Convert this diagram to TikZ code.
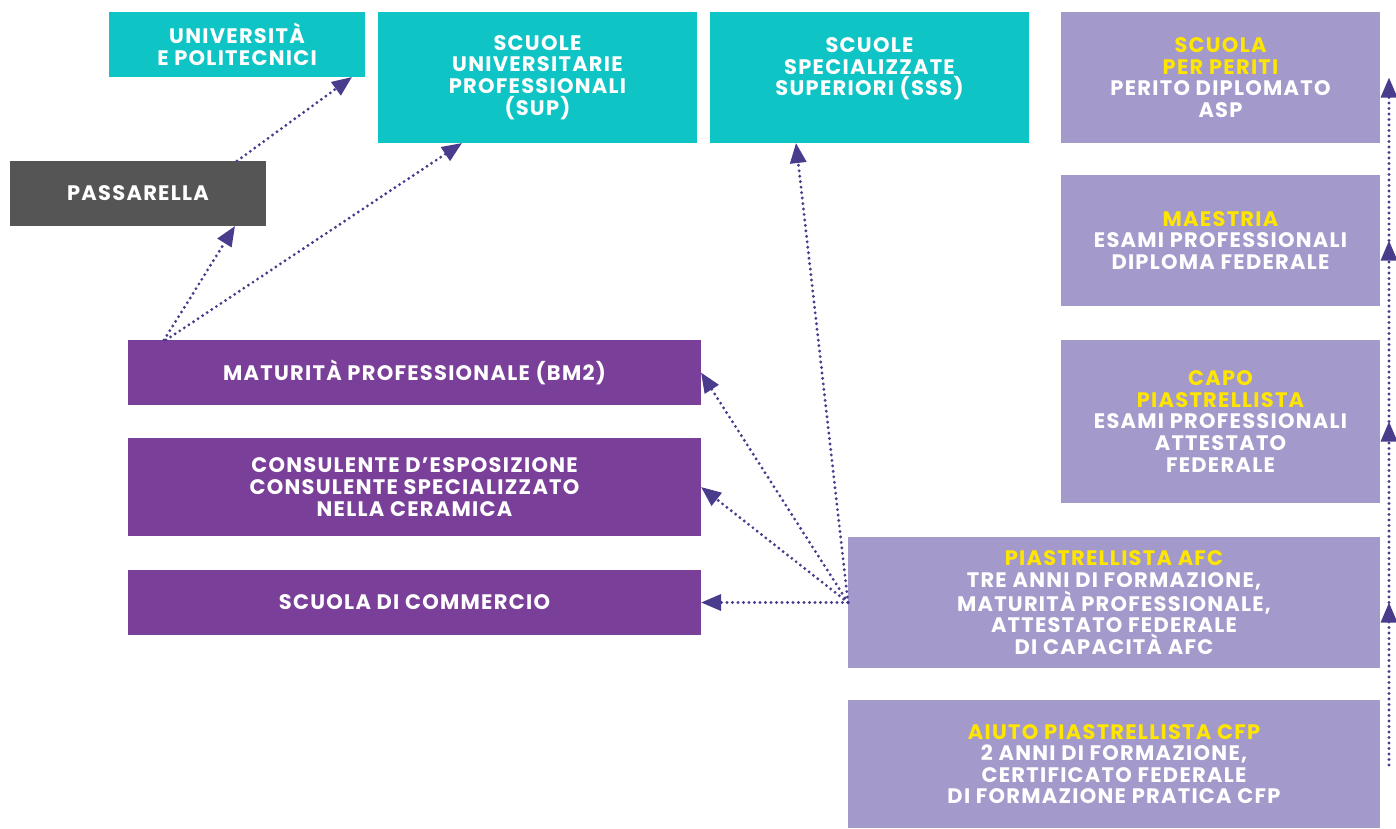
\documentclass[tikz,border=0pt]{standalone}
\usepackage{fontspec}
\setmainfont{Poppins}[BoldFont={Poppins Bold}, LetterSpace=6.0]
\usetikzlibrary{arrows.meta,calc}
\definecolor{cteal}{HTML}{0FC4C5}
\definecolor{cpurple}{HTML}{7A3F98}
\definecolor{clav}{HTML}{A399CA}
\definecolor{cgray}{HTML}{555555}
\definecolor{carrow}{HTML}{4A3C8C}
\definecolor{cyel}{HTML}{FFE600}
\tikzset{
  box/.style={anchor=north west, inner sep=0pt, outer sep=0pt, align=center, text=white,
    font=\fontsize{21}{21.6}\selectfont\bfseries},
  link/.style={carrow, line width=3.2pt, dash pattern=on 0pt off 5.5pt, line cap=round,
    -{Triangle[length=20pt,width=16pt]}},
}
\newcommand{\yl}[1]{\textcolor{cyel}{#1}}
\begin{document}
\begin{tikzpicture}[x=1pt,y=-1pt]
\useasboundingbox (0,0) rectangle (1396,828);
% top row
\node[box, fill=cteal, minimum width=256pt, minimum height=65pt] (uni) at (109,12) {UNIVERSITÀ\\E POLITECNICI};
\node[box, fill=cteal, minimum width=319pt, minimum height=131pt] (sup) at (378,12) {SCUOLE\\UNIVERSITARIE\\PROFESSIONALI\\(SUP)};
\node[box, fill=cteal, minimum width=319pt, minimum height=131pt] (sss) at (710,12) {SCUOLE\\SPECIALIZZATE\\SUPERIORI (SSS)\\\mbox{}};
% right column
\node[box, fill=clav, minimum width=319pt, minimum height=131pt] (periti) at (1061,12) {\yl{SCUOLA}\\\yl{PER PERITI}\\PERITO DIPLOMATO\\ASP};
\node[box, fill=clav, minimum width=319pt, minimum height=131pt] (maestria) at (1061,175) {\yl{MAESTRIA}\\ESAMI PROFESSIONALI\\DIPLOMA FEDERALE};
\node[box, fill=clav, minimum width=319pt, minimum height=163pt] (capo) at (1061,340) {\yl{CAPO}\\\yl{PIASTRELLISTA}\\ESAMI PROFESSIONALI\\ATTESTATO\\FEDERALE};
\node[box, fill=clav, minimum width=532pt, minimum height=131pt] (afc) at (848,537) {\yl{PIASTRELLISTA AFC}\\TRE ANNI DI FORMAZIONE,\\MATURITÀ PROFESSIONALE,\\ATTESTATO FEDERALE\\DI CAPACITÀ AFC};
\node[box, fill=clav, minimum width=532pt, minimum height=128pt] (aiuto) at (848,700) {\yl{AIUTO PIASTRELLISTA CFP}\\2 ANNI DI FORMAZIONE,\\CERTIFICATO FEDERALE\\DI FORMAZIONE PRATICA CFP};
% left
\node[box, fill=cgray, minimum width=256pt, minimum height=65pt] (pass) at (10,161) {PASSARELLA};
\node[box, fill=cpurple, minimum width=573pt, minimum height=65pt] (mat) at (128,340) {MATURITÀ PROFESSIONALE (BM2)};
\node[box, fill=cpurple, minimum width=573pt, minimum height=98pt] (cons) at (128,438) {CONSULENTE D’ESPOSIZIONE\\CONSULENTE SPECIALIZZATO\\NELLA CERAMICA};
\node[box, fill=cpurple, minimum width=573pt, minimum height=65pt] (com) at (128,570) {SCUOLA DI COMMERCIO};
% connectors
\draw[link] ($(pass.north east)+(-29,0)$) -- ($(uni.south east)+(-13,0)$);
\draw[link] ($(mat.north west)+(36,0)$) -- ($(pass.south east)+(-31,0)$);
\draw[link] ($(mat.north west)+(38,0)$) -- ($(sup.south west)+(84,0)$);
\draw[link] (afc.west) -- ($(sss.south west)+(86,0)$);
\draw[link] (afc.west) -- (mat.east);
\draw[link] (afc.west) -- (cons.east);
\draw[link] (afc.west) -- (com.east);
% right vertical progression line
\coordinate (rb) at (1389,765);
\draw[link] (rb) -- (rb |- afc.east) coordinate (r1);
\draw[link] (r1) -- (rb |- capo.east) coordinate (r2);
\draw[link] (r2) -- (rb |- maestria.east) coordinate (r3);
\draw[link] (r3) -- (rb |- periti.east);
\end{tikzpicture}
\end{document}
